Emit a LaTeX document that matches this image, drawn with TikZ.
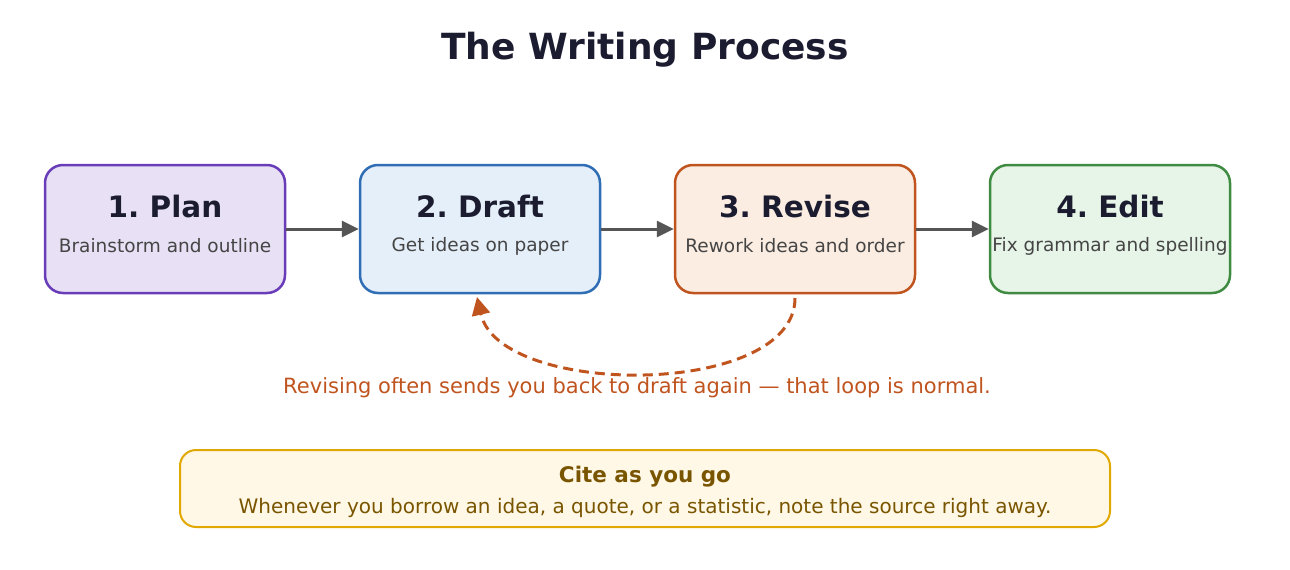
\documentclass[tikz,border=0pt]{standalone}
\usepackage{fontspec}
\setmainfont{DejaVu Sans}
\usepackage{tikz}
\usetikzlibrary{arrows.meta}
\frenchspacing
\definecolor{ink}{HTML}{1C1C30}
\definecolor{sub_grey}{HTML}{454545}
\definecolor{flow_grey}{HTML}{555555}
\definecolor{plan_fill}{HTML}{E8E0F5}
\definecolor{plan_line}{HTML}{6A3DB8}
\definecolor{draft_fill}{HTML}{E5EFF9}
\definecolor{draft_line}{HTML}{2F6DB5}
\definecolor{revise_fill}{HTML}{FBEDE2}
\definecolor{revise_line}{HTML}{C0541F}
\definecolor{edit_fill}{HTML}{E7F5E8}
\definecolor{edit_line}{HTML}{3F8B42}
\definecolor{cite_fill}{HTML}{FFF8E6}
\definecolor{cite_line}{HTML}{E0A800}
\definecolor{cite_ink}{HTML}{7A5500}
\tikzstyle{stage}=[rectangle,rounded corners=18pt,line width=2.5pt,
  minimum width=240pt,minimum height=128pt,inner sep=0pt]
\tikzstyle{head}=[font=\bfseries\fontsize{29.5}{32}\selectfont,text=ink,inner sep=0pt]
\tikzstyle{sub}=[font=\fontsize{18.5}{20}\selectfont,text=sub_grey,inner sep=0pt]
\tikzstyle{flow}=[draw=flow_grey,line width=3pt,-{Triangle[length=17pt,width=16pt]}]
\tikzstyle{back}=[draw=revise_line,line width=3pt,dash pattern=on 10pt off 6pt,
  -{Triangle[length=18pt,width=18pt]}]
\tikzstyle{none}=[]

\begin{document}
\begin{tikzpicture}[x=1pt,y=-1pt]
            \useasboundingbox (0, 0) rectangle (1290, 570);
            \node [style=none,font=\bfseries\fontsize{36}{40}\selectfont,text=ink] (0) at (645, 50) {The Writing Process};
            \node [style=stage,fill=plan_fill,draw=plan_line] (1) at (165, 229) {};
            \node [style=stage,fill=draft_fill,draw=draft_line] (2) at (480, 229) {};
            \node [style=stage,fill=revise_fill,draw=revise_line] (3) at (795, 229) {};
            \node [style=stage,fill=edit_fill,draw=edit_line] (4) at (1110, 229) {};
            \node [style=head] (11) at (165, 206) {1. Plan};
            \node [style=sub] (12) at (165, 246) {Brainstorm and outline};
            \node [style=head] (21) at (480, 206) {2. Draft};
            \node [style=sub] (22) at (480, 246) {Get ideas on paper};
            \node [style=head] (31) at (795, 206) {3. Revise};
            \node [style=sub] (32) at (795, 246) {Rework ideas and order};
            \node [style=head] (41) at (1110, 206) {4. Edit};
            \node [style=sub] (42) at (1110, 246) {Fix grammar and spelling};
            \draw [style=flow] (1) to (2);
            \draw [style=flow] (2) to (3);
            \draw [style=flow] (3) to (4);
            \coordinate (5) at (795, 298);
            \coordinate (6) at (477, 297);
            \draw [style=back] (5) .. controls (795, 398) and (500, 398) .. (6);
            \node [style=none,font=\fontsize{21}{24}\selectfont,text=revise_line] (7) at (637, 388) {Revising often sends you back to draft again — that loop is normal.};
            \node [style=stage,minimum width=930pt,minimum height=77pt,rounded corners=16pt,line width=2pt,fill=cite_fill,draw=cite_line] (8) at (645, 488.5) {};
            \node [style=none,inner sep=0pt,font=\bfseries\fontsize{21.5}{24}\selectfont,text=cite_ink] (81) at (645, 477) {Cite as you go};
            \node [style=none,inner sep=0pt,font=\fontsize{20}{22}\selectfont,text=cite_ink] (82) at (645, 508) {Whenever you borrow an idea, a quote, or a statistic, note the source right away.};
    \end{tikzpicture}
\end{document}
